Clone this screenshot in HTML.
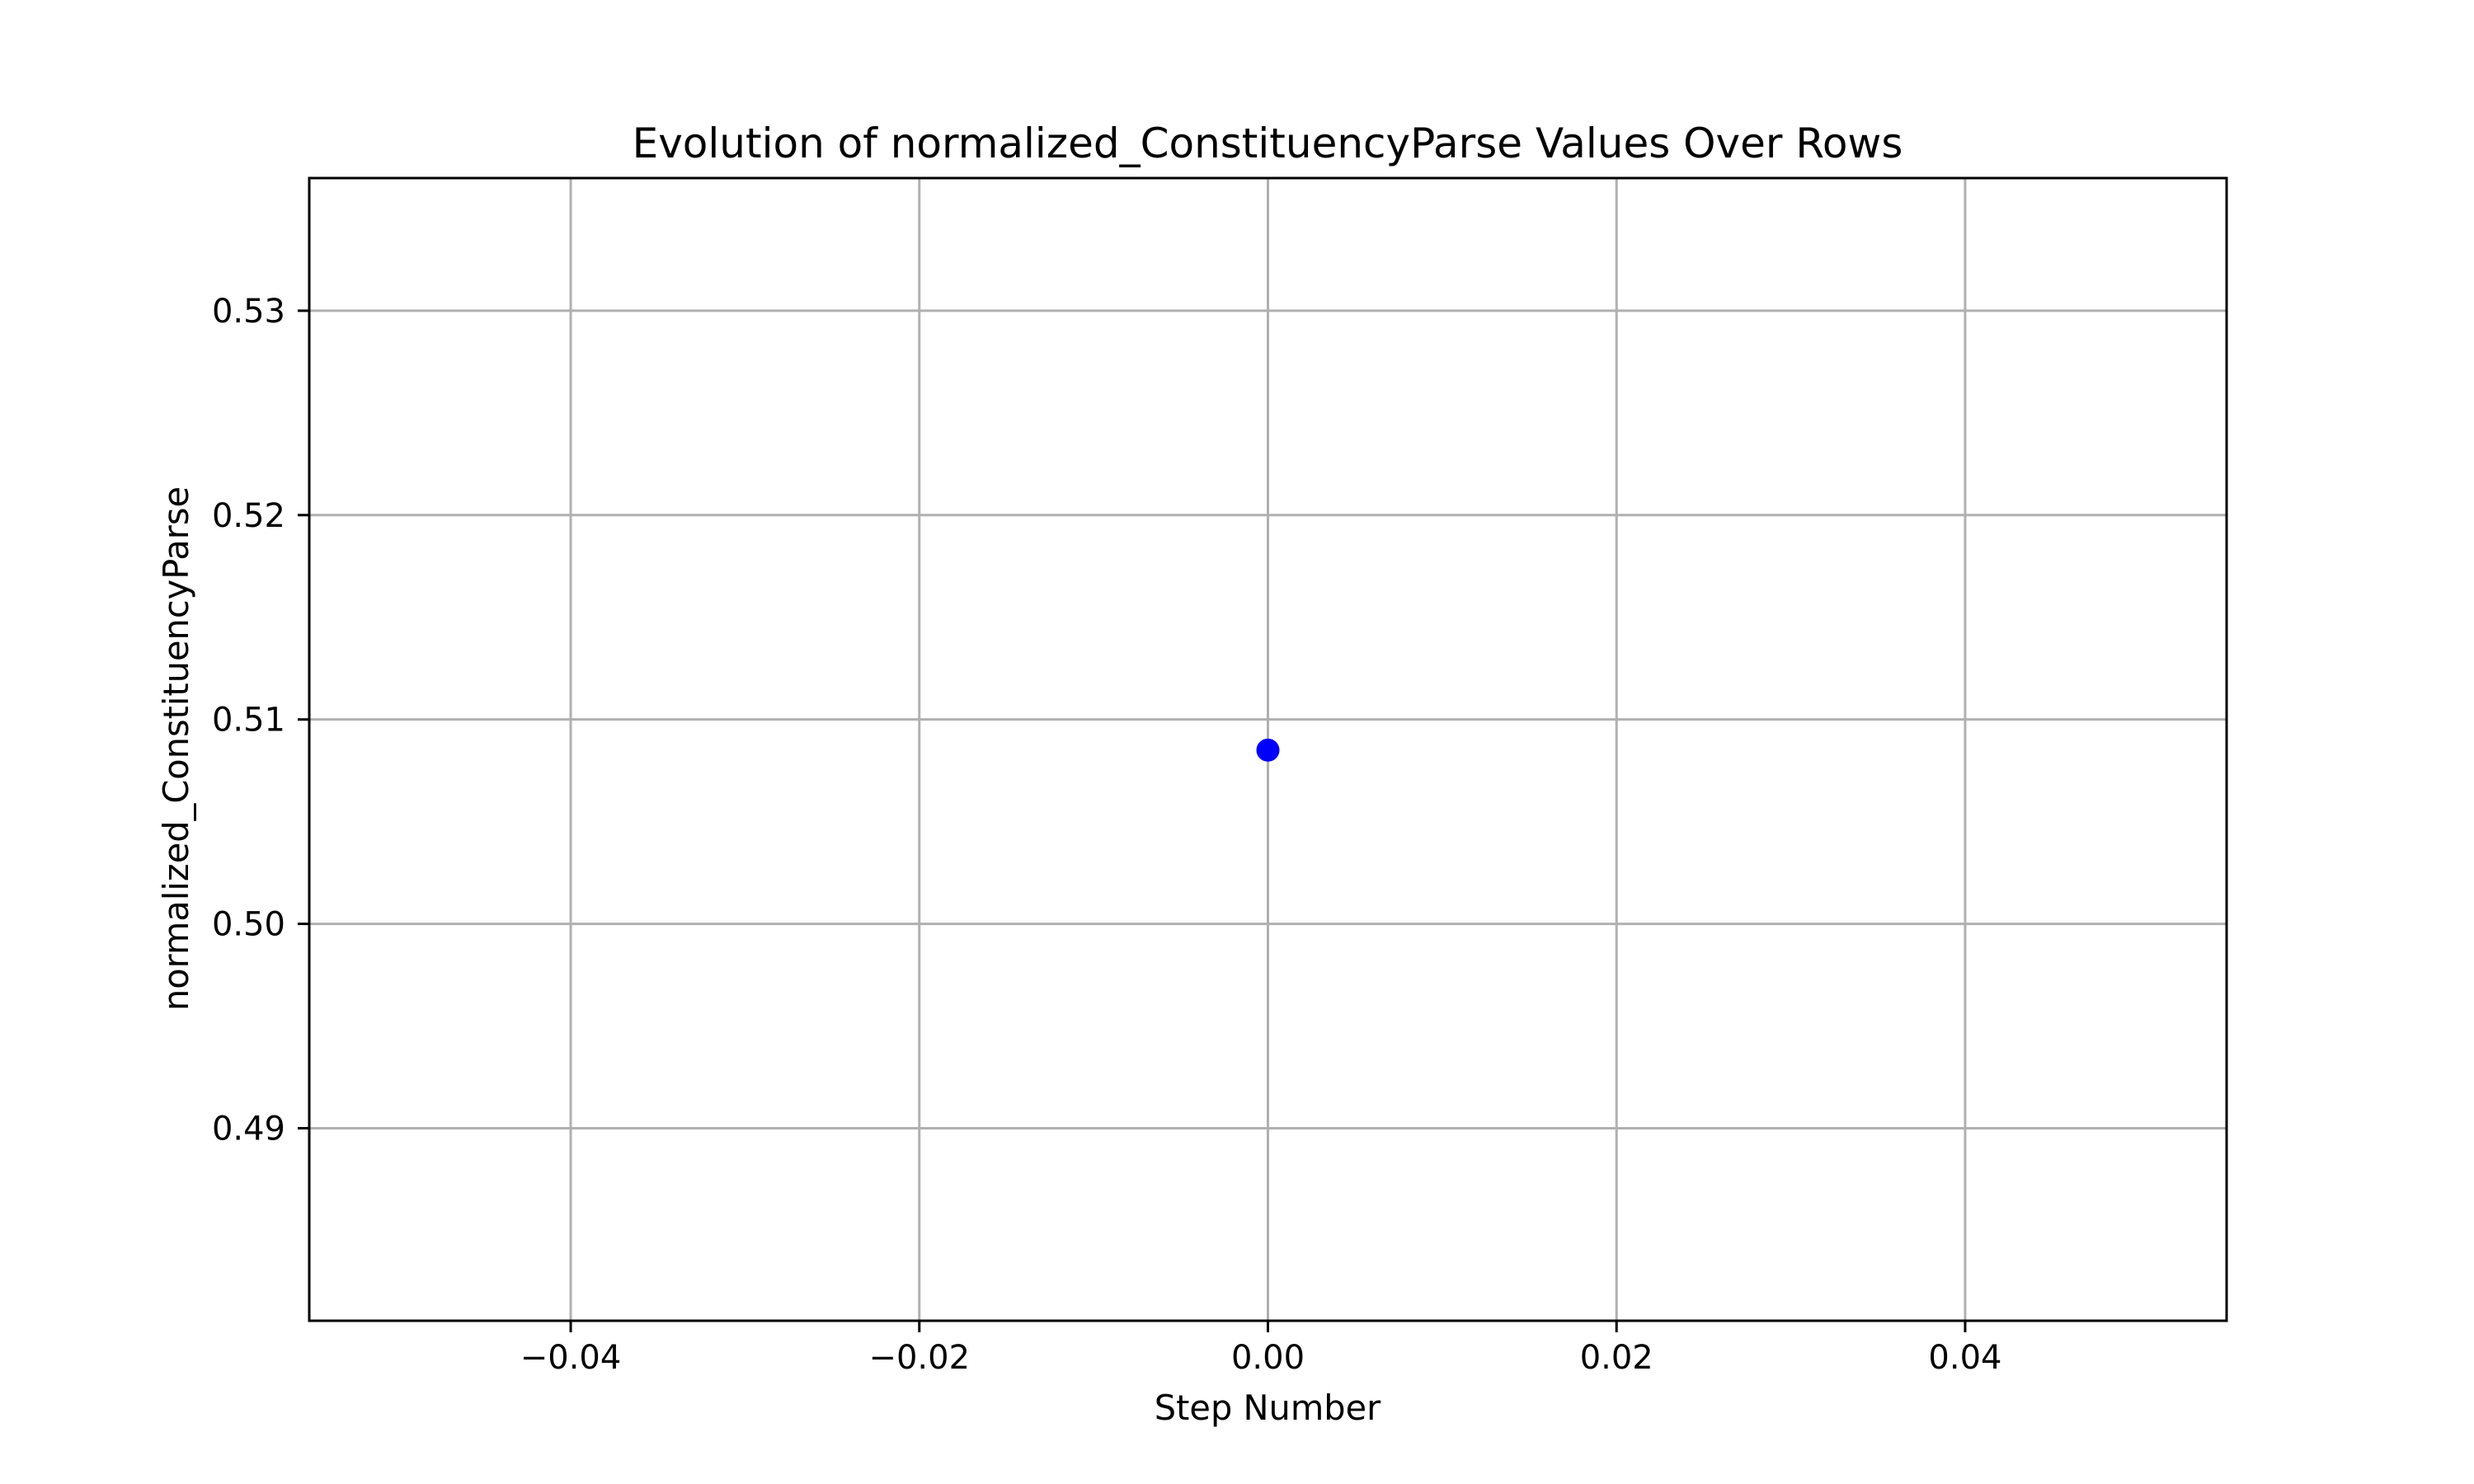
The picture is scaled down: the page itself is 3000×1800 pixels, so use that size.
<!DOCTYPE html>
<html><head><meta charset="utf-8"><style>html,body{margin:0;padding:0;background:#fff}svg{display:block}text{font-family:"DejaVu Sans","Liberation Sans",sans-serif;fill:#000}</style></head>
<body>
<svg id="chart" width="3000" height="1800" xmlns="http://www.w3.org/2000/svg">
<rect width="3000" height="1800" fill="#fff"/>
<g id="grid"></g><g id="marks"></g><g id="axes"></g>
<text x="1537" y="191" font-size="50" text-anchor="middle">Evolution of normalized_ConstituencyParse Values Over Rows</text>
<text x="1537" y="1722" font-size="41.5" text-anchor="middle">Step Number</text>
<text transform="translate(228,908) rotate(-90)" font-size="41.5" text-anchor="middle">normalized_ConstituencyParse</text>
</svg>
<script>
const steps = [0];
const values = [0.5085];
const xTicks = [-0.04, -0.02, 0.00, 0.02, 0.04];
const xTickLabels = ["\u22120.04", "\u22120.02", "0.00", "0.02", "0.04"];
const yTicks = [0.49, 0.50, 0.51, 0.52, 0.53];
const yTickLabels = ["0.49", "0.50", "0.51", "0.52", "0.53"];

const L=375,R=2700,T=216,B=1602;
const xMin=-0.055,xMax=0.055,yMin=0.48058,yMax=0.53649;
const sx=v=>L+(v-xMin)/(xMax-xMin)*(R-L);
const sy=v=>B-(v-yMin)/(yMax-yMin)*(B-T);
const NS='http://www.w3.org/2000/svg';
function mk(tag,attrs,parent){const e=document.createElementNS(NS,tag);for(const k in attrs)e.setAttribute(k,attrs[k]);parent.appendChild(e);return e;}
const grid=document.getElementById('grid'),marks=document.getElementById('marks'),axes=document.getElementById('axes');
xTicks.forEach((t,i)=>{
  const x=sx(t);
  const g=mk('line',{x1:x,x2:x,y1:T,y2:B,stroke:'#b0b0b0','stroke-width':3},grid);
  
  
  const tk=mk('line',{x1:x,x2:x,y1:B,y2:B+14,stroke:'#000','stroke-width':3},axes);
  
  
  const lb=mk('text',{x:x,y:B+58,'font-size':40,'text-anchor':'middle'},axes);
  lb.textContent=xTickLabels[i];
  
  
});
yTicks.forEach((t,i)=>{
  const y=sy(t);
  const g=mk('line',{x1:L,x2:R,y1:y,y2:y,stroke:'#b0b0b0','stroke-width':3},grid);
  
  
  const tk=mk('line',{x1:L-14,x2:L,y1:y,y2:y,stroke:'#000','stroke-width':3},axes);
  
  
  const lb=mk('text',{x:L-29,y:y+14,'font-size':40,'text-anchor':'end'},axes);
  lb.textContent=yTickLabels[i];
  
  
});
const frame=mk('rect',{x:L,y:T,width:R-L,height:B-T,fill:'none',stroke:'#000','stroke-width':3},axes);


steps.forEach((s,i)=>{
  const c=mk('circle',{cx:sx(s),cy:sy(values[i]),r:14,fill:'#0000ff'},marks);
  
  
});
</script>
</body></html>
